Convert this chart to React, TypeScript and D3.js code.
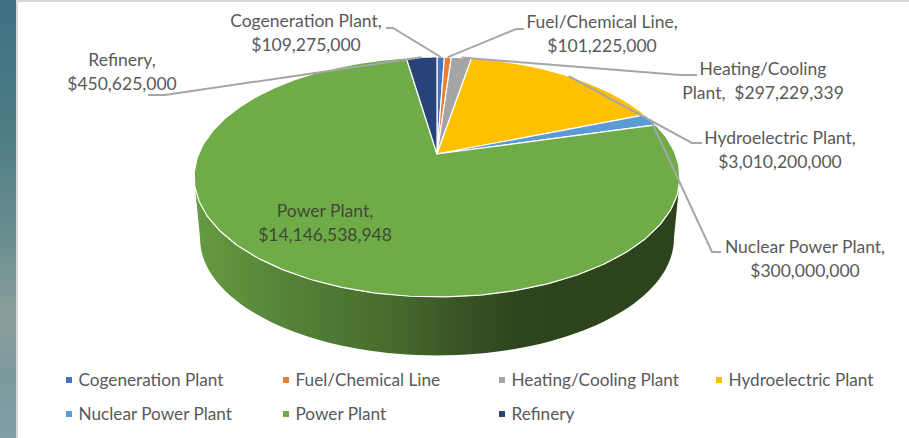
import React from 'react';
import * as d3 from 'd3';

const categories = ["Cogeneration Plant", "Fuel/Chemical Line", "Heating/Cooling Plant", "Hydroelectric Plant", "Nuclear Power Plant", "Power Plant", "Refinery"];
const values = [109275000, 101225000, 297229339, 3010200000, 300000000, 14146538948, 450625000];
const colors = ["#4472c4", "#ed7d31", "#a5a5a5", "#ffc000", "#5b9bd5", "#6fac47", "#264478"];

const dollars = d3.format("$,");

// perspective of the tilted pie: unit disc -> screen
const persp = -0.1917;
const project = (a: number, r: number, cx: number, cy: number, s: number): [number, number] => {
    const u = Math.sin(a) * r;
    const v = -Math.cos(a) * r;
    const w = 1 + persp * v;
    return [cx + (s * 238.5 * u) / w, cy + (s * 115.6 * v) / w];
};
const top = (a: number, r = 1) => project(a, r, 437, 154, 1);
const bottom = (a: number) => project(a, 1, 437, 216, 0.975);

const pieData = d3.pie<number>().sort(null)(values);

const slicePath = (start: number, end: number) => {
    const rim = d3.range(0, 41).map((i) => top(start + ((end - start) * i) / 40));
    return d3.line()([top(0, 0), ...rim]) + "Z";
};

// visible near side of the disc
const sideStart = (101 * Math.PI) / 180;
const sideEnd = (259 * Math.PI) / 180;
const sideAngles = d3.range(0, 81).map((i) => sideStart + ((sideEnd - sideStart) * i) / 80);
const sidePath = d3.line()([...sideAngles.map((a) => top(a)), ...sideAngles.slice().reverse().map((a) => bottom(a))]) + "Z";

// label blocks and their leader elbows, same order as categories
const labelLines = [
    ["Cogeneration Plant,", dollars(values[0])],
    ["Fuel/Chemical Line,", dollars(values[1])],
    ["Heating/Cooling", "Plant,  " + dollars(values[2])],
    ["Hydroelectric Plant,", dollars(values[3])],
    ["Nuclear Power Plant,", dollars(values[4])],
    ["Power Plant,", dollars(values[5])],
    ["Refinery,", dollars(values[6])],
];
const labelX = [306, 602, 763, 780, 805, 325, 122];
const labelY = [27, 28, 75, 144, 253, 217, 66];
const elbows: ([number, number][] | null)[] = [
    [[386, 28], [393, 28]],
    [[524, 29], [516, 29]],
    [[697, 75], [680, 75]],
    [[702, 143], [692, 143]],
    [[721, 252], [712, 252]],
    null,
    [[148, 95], [165, 95]],
];

const legendX = [66, 283, 499, 716];
const legendY = [380, 414];

const App = () => {
    const font = "Lato, 'Noto Sans', sans-serif";
    return (
        <svg width={909} height={438} style={{ position: "absolute", left: 0, top: 0, background: "#fff" }} fontFamily={font}>
            <defs>
                <linearGradient id="strip" x1="0" y1="0" x2="0" y2="1">
                    <stop offset="0" stopColor="#3b7183" />
                    <stop offset="0.3" stopColor="#4d7d84" />
                    <stop offset="0.55" stopColor="#6a8f91" />
                    <stop offset="0.72" stopColor="#8b9f9c" />
                    <stop offset="0.85" stopColor="#7c9a9e" />
                    <stop offset="1" stopColor="#80a0a6" />
                </linearGradient>
                <linearGradient id="side" gradientUnits="userSpaceOnUse" x1="195" y1="0" x2="680" y2="0">
                    <stop offset="0" stopColor="#659b41" />
                    <stop offset="0.22" stopColor="#537f36" />
                    <stop offset="0.42" stopColor="#466a2d" />
                    <stop offset="0.53" stopColor="#3b5625" />
                    <stop offset="0.67" stopColor="#2d441c" />
                    <stop offset="1" stopColor="#2c431b" />
                </linearGradient>
            </defs>
            <rect x={0} y={0} width={16} height={438} fill="url(#strip)" />
            <rect x={16} y={0} width={2} height={438} fill="#d9d9d9" />
            <rect x={16} y={0} width={893} height={2} fill="#d9d9d9" />

            <path d={sidePath} fill="url(#side)" />
            {pieData.map((d, i) => (
                <path key={i} d={slicePath(d.startAngle, d.endAngle)} fill={colors[i]} stroke="#fff" strokeWidth={1.2} strokeLinejoin="round" />
            ))}

            {pieData.map((d, i) => {
                const elbow = elbows[i];
                if (!elbow) return null;
                const pts = [...elbow, top((d.startAngle + d.endAngle) / 2)] as [number, number][];
                return <path key={i} d={d3.line()(pts) as string} fill="none" stroke="#a6a6a6" strokeWidth={2} />;
            })}

            {labelLines.map((lines, i) => (
                <text key={i} x={labelX[i]} y={labelY[i]} textAnchor="middle" fontSize={17.5} fill={i === 5 ? "#3f4a38" : "#595959"} style={{ whiteSpace: "pre" }}>
                    {lines.map((l, j) => (
                        <tspan key={j} x={labelX[i]} dy={j === 0 ? 0 : 24}>{l}</tspan>
                    ))}
                </text>
            ))}

            {categories.map((c, i) => {
                const x = legendX[i % 4];
                const y = legendY[Math.floor(i / 4)];
                return (
                    <g key={c}>
                        <rect x={x} y={y - 3} width={6} height={6} fill={colors[i]} />
                        <text x={x + 12.5} y={y + 6} fontSize={17.2} fill="#595959">{c}</text>
                    </g>
                );
            })}
        </svg>
    );
};

export default App;
